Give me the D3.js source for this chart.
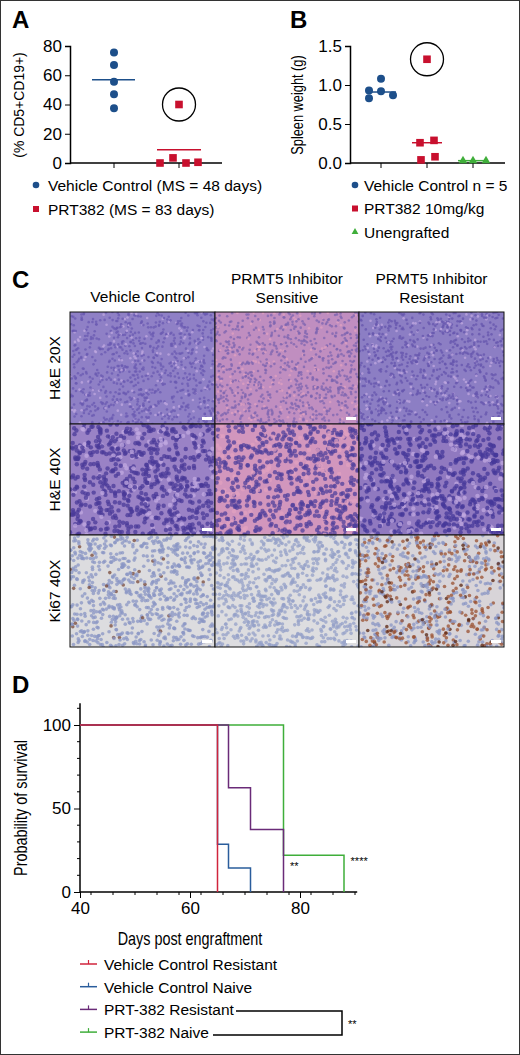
<!DOCTYPE html><html><head><meta charset="utf-8">
<script src="https://cdn.jsdelivr.net/npm/d3@7"></script>
<style>body{margin:0;background:#fff}svg{display:block}text{font-family:"Liberation Sans",Arial,sans-serif}</style></head><body>
<svg id="c" width="520" height="1055"></svg>
<script>
// ---- Panel A data ----
const aGroups=["Vehicle Control","PRT382"];
const aVehicle=[75.5,67,55.5,47,37.5];
const aVehicleOff=[0,0,0,0,0];
const aPRT=[0,3.5,0,0.5,40];
const aPRTOff=[-19,-6,7,19,0];
const aMeans=[57,9];
const aTicks=[0,20,40,60,80];
// ---- Panel B data ----
const bGroups=["Vehicle","PRT382","Unengrafted"];
const bVehicle=[0.93,1.08,0.92,0.83,0.87];
const bVehicleOff=[-12,0,0,-12,12];
const bPRT=[1.33,0.26,0.29,0.04,0.08];
const bPRTOff=[0,-7,7,-6,8];
const bUneng=[0.03,0.03,0.03];
const bUnengOff=[-10,0,13];
const bMedians=[0.91,0.26,0.03];
const bTicks=[0,0.5,1.0,1.5];
// ---- Panel D data (Kaplan-Meier steps: [day, survival]) ----
const kmVCResistant=[[40,100],[65,100],[65,0]];
const kmVCNaive=[[40,100],[65,100],[65,28.6],[67,28.6],[67,14.3],[71,14.3],[71,0]];
const kmPRTResistant=[[40,100],[67,100],[67,62.5],[71,62.5],[71,37.5],[77,37.5],[77,0]];
const kmPRTNaive=[[40,100],[77,100],[77,22],[88,22],[88,0]];
const dTicksX=[40,60,80];
const dTicksY=[0,50,100];

const svg=d3.select("#c");
svg.append("rect").attr("x",0.5).attr("y",0.5).attr("width",519).attr("height",1054).attr("fill","none").attr("stroke","#333");
const BLUE="#1d4f8a",RED="#c8102e",GREEN="#3fae3a",PURPLE="#6a2b78";
const TF=17, LF=15.5;
function lbl(t,x,y){svg.append("text").attr("x",x).attr("y",y).text(t).attr("font-size",24).attr("font-weight","bold");}
lbl("A",12,28);lbl("B",290,28);lbl("C",12,288);lbl("D",12,693);
function narrow(t,x,y,rot,size){svg.append("text").attr("transform",`translate(${x},${y})${rot?" rotate(-90)":""} scale(0.8,1)`).attr("text-anchor","middle").attr("font-size",size).text(t);}

// ---- Panel A ----
{const y=d3.scaleLinear().domain([0,80]).range([163,46]);
 const x=d3.scalePoint().domain(aGroups).range([114,179]);
 const g=svg.append("g");
 const ya=g.append("g").attr("transform","translate(70,0)").call(d3.axisLeft(y).tickValues(aTicks).tickSize(5));
 g.append("line").attr("x1",70).attr("x2",222).attr("y1",163).attr("y2",163).attr("stroke","#000").attr("stroke-width",1.5);
 aGroups.forEach(c=>g.append("line").attr("x1",x(c)).attr("x2",x(c)).attr("y1",163).attr("y2",168).attr("stroke","#000"));
 ya.selectAll("text").attr("font-size",TF);ya.select(".domain").attr("stroke-width",1.5);
 svg.append("text").attr("transform","translate(24,105) rotate(-90) scale(0.9,1)").attr("text-anchor","middle").attr("font-size",15.5).text("(% CD5+CD19+)");
 g.append("line").attr("x1",x(aGroups[0])-22).attr("x2",x(aGroups[0])+21).attr("y1",y(aMeans[0])).attr("y2",y(aMeans[0])).attr("stroke",BLUE).attr("stroke-width",1.5);
 g.append("line").attr("x1",x(aGroups[1])-22).attr("x2",x(aGroups[1])+22).attr("y1",y(aMeans[1])).attr("y2",y(aMeans[1])).attr("stroke",RED).attr("stroke-width",1.5);
 aVehicle.forEach((v,i)=>g.append("circle").attr("cx",x(aGroups[0])+aVehicleOff[i]).attr("cy",y(v)).attr("r",4).attr("fill",BLUE));
 aPRT.forEach((v,i)=>g.append("rect").attr("x",x(aGroups[1])+aPRTOff[i]-3.8).attr("y",y(v)-3.8).attr("width",7.6).attr("height",7.6).attr("fill",RED));
 g.append("circle").attr("cx",x(aGroups[1])).attr("cy",y(aPRT[4])).attr("r",16.5).attr("fill","none").attr("stroke","#000").attr("stroke-width",1.3);
 const L=[["circle",BLUE,"Vehicle Control (MS = 48 days)"],["rect",RED,"PRT382 (MS = 83 days)"]];
 L.forEach((l,i)=>{const yy=185+i*24;
  if(l[0]=="circle")svg.append("circle").attr("cx",36).attr("cy",yy).attr("r",3.3).attr("fill",l[1]);
  else svg.append("rect").attr("x",33).attr("y",yy-3).attr("width",6).attr("height",6).attr("fill",l[1]);
  svg.append("text").attr("x",48).attr("y",yy+5.5).attr("font-size",LF).text(l[2]);});
}
// ---- Panel B ----
{const y=d3.scaleLinear().domain([0,1.5]).range([163,46]);
 const x=d3.scalePoint().domain(bGroups).range([381,473]);
 const g=svg.append("g");
 const ya=g.append("g").attr("transform","translate(350,0)").call(d3.axisLeft(y).tickValues(bTicks).tickFormat(d3.format(".1f")).tickSize(5));
 ya.selectAll("text").attr("font-size",TF);ya.select(".domain").attr("stroke-width",1.5);
 g.append("line").attr("x1",350).attr("x2",505).attr("y1",163).attr("y2",163).attr("stroke","#000").attr("stroke-width",1.5);
 bGroups.forEach(c=>g.append("line").attr("x1",x(c)).attr("x2",x(c)).attr("y1",163).attr("y2",168).attr("stroke","#000"));
 narrow("Spleen weight (g)",303,105,true,16);
 const cols=[BLUE,RED,GREEN];
 bMedians.forEach((m,i)=>g.append("line").attr("x1",x(bGroups[i])-15).attr("x2",x(bGroups[i])+15).attr("y1",y(m)).attr("y2",y(m)).attr("stroke",cols[i]).attr("stroke-width",1.5));
 bVehicle.forEach((v,i)=>g.append("circle").attr("cx",x(bGroups[0])+bVehicleOff[i]).attr("cy",y(v)).attr("r",4).attr("fill",BLUE));
 bPRT.forEach((v,i)=>g.append("rect").attr("x",x(bGroups[1])+bPRTOff[i]-3.8).attr("y",y(v)-3.8).attr("width",7.6).attr("height",7.6).attr("fill",RED));
 bUneng.forEach((v,i)=>g.append("path").attr("d",d3.symbol(d3.symbolTriangle,32)()).attr("transform",`translate(${x(bGroups[2])+bUnengOff[i]},${y(v)})`).attr("fill",GREEN));
 g.append("circle").attr("cx",x(bGroups[1])).attr("cy",y(bPRT[0])).attr("r",16.5).attr("fill","none").attr("stroke","#000").attr("stroke-width",1.3);
 const L=[["circle",BLUE,"Vehicle Control n = 5"],["rect",RED,"PRT382 10mg/kg"],["tri",GREEN,"Unengrafted"]];
 L.forEach((l,i)=>{const yy=185+i*23.5;
  if(l[0]=="circle")svg.append("circle").attr("cx",355).attr("cy",yy).attr("r",3.3).attr("fill",l[1]);
  else if(l[0]=="rect")svg.append("rect").attr("x",352).attr("y",yy-3).attr("width",6).attr("height",6).attr("fill",l[1]);
  else svg.append("path").attr("d",d3.symbol(d3.symbolTriangle,20)()).attr("transform",`translate(355,${yy})`).attr("fill",l[1]);
  svg.append("text").attr("x",364).attr("y",yy+5.5).attr("font-size",LF).text(l[2]);});
}
// ---- Panel C ----
{const colsC=[["Vehicle Control"],["PRMT5 Inhibitor","Sensitive"],["PRMT5 Inhibitor","Resistant"]];
 const rowsC=["H&E 20X","H&E 40X","Ki67 40X"];
 const xs=[70,215,359,504], ys=[312,424,535,647];
 colsC.forEach((c,i)=>{const cx=(xs[i]+xs[i+1])/2;
  c.forEach((t,j)=>svg.append("text").attr("x",cx).attr("y",c.length==1?302:284+j*19).attr("text-anchor","middle").attr("font-size",LF).text(t));});
 rowsC.forEach((r,j)=>svg.append("text").attr("transform",`translate(60,${(ys[j]+ys[j+1])/2}) rotate(-90)`).attr("text-anchor","middle").attr("font-size",LF).text(r));
 const bases=[["#8f80c6","#c08ec0","#8c7ec4"],["#9a82c6","#d296bd","#9079c0"],["#dcdcdf","#dddde0","#d8d4d8"]];
 const dots=[["#6a5ab2","#7c64b0","#6656ae"],["#4a3a98","#50409c","#46389a"],["#8a96c4","#94a0c8","#8a96c4"]];
 const hash=n=>{const s=Math.sin(n*12.9898)*43758.5453;return s-Math.floor(s);};
 for(let j=0;j<3;j++)for(let i=0;i<3;i++){
  const x0=xs[i],y0=ys[j],w=xs[i+1]-xs[i],h=ys[j+1]-ys[j];
  const cg=svg.append("g");
  cg.append("clipPath").attr("id",`cp${i}${j}`).append("rect").attr("x",x0).attr("y",y0).attr("width",w).attr("height",h);
  const gg=cg.append("g").attr("clip-path",`url(#cp${i}${j})`);
  gg.append("rect").attr("x",x0).attr("y",y0).attr("width",w).attr("height",h).attr("fill",bases[j][i]);
  const n=j==0?900:j==1?700:800, r=j==0?1.3:j==1?2.2:1.8;
  for(let k=0;k<n;k++){const a=hash(k+i*1000+j*3000),b=hash(k*7+i*500+j*900+3);
   let col=dots[j][i];
   if(j==2&&i==2&&hash(k*3+11)<0.45)col=hash(k+5)<0.2?"#5a2410":"#9a5030";
   if(j==2&&i==0&&hash(k*3+11)<0.04)col="#7a4a3a";
   if(j<2&&hash(k*5+i+j)<0.18)col=(i==1?"#e0a0c0":"#c0a8e0");
   gg.append("circle").attr("cx",x0+a*w).attr("cy",y0+b*h).attr("r",r).attr("fill",col).attr("opacity",0.75);}
  cg.append("rect").attr("x",x0+w-13).attr("y",y0+h-7).attr("width",10).attr("height",3).attr("fill","#fff");
  cg.append("rect").attr("x",x0).attr("y",y0).attr("width",w).attr("height",h).attr("fill","none").attr("stroke","#111").attr("stroke-width",1);
 }}
// ---- Panel D ----
{const x=d3.scaleLinear().domain([40,80]).range([80,300]);
 const y=d3.scaleLinear().domain([0,100]).range([892,725]);
 const g=svg.append("g");
 const xa=g.append("g").attr("transform","translate(0,892)").call(d3.axisBottom(x).tickValues(dTicksX).tickSize(6).tickPadding(4));
 xa.select(".domain").attr("d",`M${x(40)},0H${x(90.4)}`).attr("stroke-width",1.5);
 xa.selectAll("text").attr("font-size",TF);
 d3.range(42,91,4).filter(v=>!dTicksX.includes(v)).forEach(v=>g.append("line").attr("x1",x(v)).attr("x2",x(v)).attr("y1",892).attr("y2",895).attr("stroke","#000"));
 const ya=g.append("g").attr("transform","translate(80,0)").call(d3.axisLeft(y).tickValues(dTicksY).tickSize(6).tickPadding(3));
 ya.select(".domain").attr("d",`M0,${y(0)}V${y(113)}`).attr("stroke-width",1.5);
 ya.selectAll("text").attr("font-size",TF);
 d3.range(10,111,10).filter(v=>v%50).forEach(v=>g.append("line").attr("x1",77).attr("x2",80).attr("y1",y(v)).attr("y2",y(v)).attr("stroke","#000"));
 const line=d3.line().x(d=>x(d[0])).y(d=>y(d[1]));
 [[kmPRTNaive,GREEN],[kmPRTResistant,PURPLE],[kmVCNaive,"#2a5d9c"],[kmVCResistant,"#d0243c"]].forEach(s=>g.append("path").attr("d",line(s[0])).attr("fill","none").attr("stroke",s[1]).attr("stroke-width",1.5));
 g.append("text").attr("x",x(78.2)).attr("y",y(13)).attr("font-size",11).text("**");
 g.append("text").attr("x",x(89.2)).attr("y",y(16)).attr("font-size",11).text("****");
 narrow("Probability of survival",27,808,true,18);
 narrow("Days post engraftment",190,945,false,18);
 const L=[["#d0243c","Vehicle Control Resistant"],["#2a5d9c","Vehicle Control Naive"],[PURPLE,"PRT-382 Resistant"],[GREEN,"PRT-382 Naive"]];
 L.forEach((l,i)=>{const yy=964+i*22.7;
  svg.append("line").attr("x1",80).attr("x2",97).attr("y1",yy).attr("y2",yy).attr("stroke",l[0]).attr("stroke-width",1.5);
  svg.append("line").attr("x1",88.5).attr("x2",88.5).attr("y1",yy-4).attr("y2",yy).attr("stroke",l[0]).attr("stroke-width",1.2);
  svg.append("text").attr("x",104).attr("y",yy+6).attr("font-size",LF).text(l[1]);});
 svg.append("path").attr("d","M236,1011H342V1035H213").attr("fill","none").attr("stroke","#000").attr("stroke-width",1.5);
 svg.append("text").attr("x",348).attr("y",1028).attr("font-size",11).text("**");
}
</script></body></html>
